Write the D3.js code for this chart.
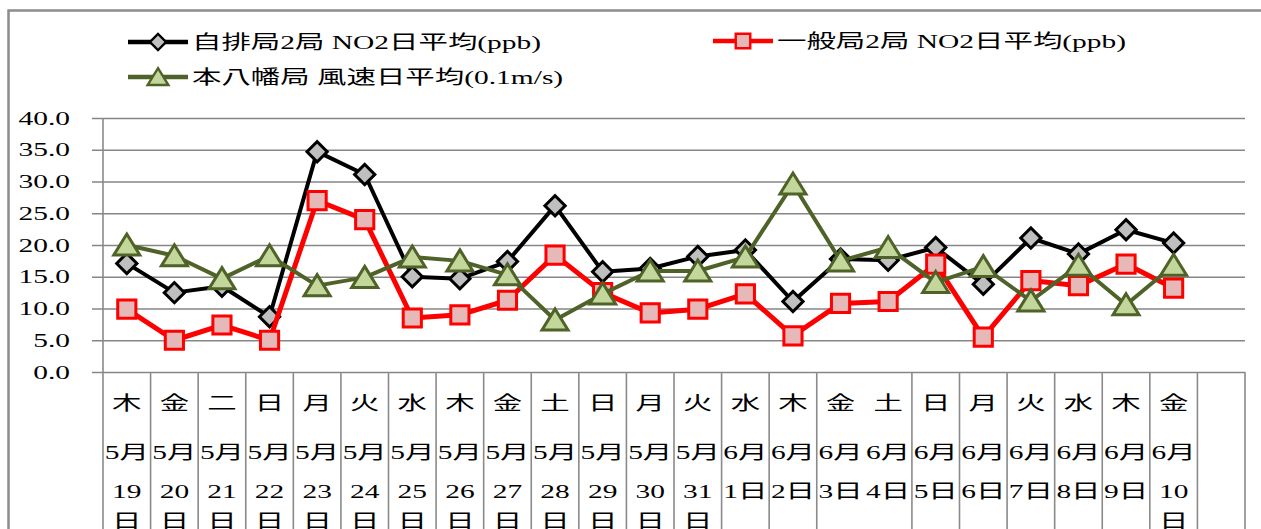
<!DOCTYPE html>
<html>
<head>
<meta charset="utf-8">
<script src="https://cdn.jsdelivr.net/npm/d3@7"></script>
<style>
  body { margin: 0; background: #fff; }
  svg { display: block; }
  text { font-family: "Liberation Serif", "Noto Sans CJK JP", serif; font-size: 19px; fill: #000; }
</style>
</head>
<body>
<div class="chartcontainer"></div>
<script>
// day-of-week row and date row of the category table (as printed)
const days = ['木', '金', '二', '日', '月', '火', '水', '木', '金', '土', '日', '月',
  '火', '水', '木', '金', '土', '日', '月', '火', '水', '木', '金'];
const dates = ['5月19日', '5月20日', '5月21日', '5月22日', '5月23日', '5月24日', '5月25日',
  '5月26日', '5月27日', '5月28日', '5月29日', '5月30日', '5月31日', '6月1日', '6月2日',
  '6月3日', '6月4日', '6月5日', '6月6日', '6月7日', '6月8日', '6月9日', '6月10日'];

const roadsideNO2 = [17.1, 12.5, 13.5, 8.7, 34.7, 31.1, 15.0, 14.7, 17.4, 26.2, 15.8, 16.3,
  18.2, 19.2, 11.1, 17.8, 17.6, 19.6, 13.8, 21.1, 18.6, 22.4, 20.3];
const ambientNO2 = [9.9, 5.0, 7.4, 5.0, 27.0, 24.0, 8.5, 9.0, 11.3, 18.4, 12.5, 9.3,
  9.9, 12.3, 5.7, 10.8, 11.1, 17.0, 5.5, 14.4, 13.6, 17.0, 13.2];
const windSpeed = [20.0, 18.3, 14.7, 18.3, 13.6, 14.9, 18.1, 17.5, 15.3, 8.2, 12.3, 15.9,
  15.9, 18.1, 29.6, 17.5, 19.6, 14.1, 16.6, 11.2, 16.8, 10.6, 16.8];

const seriesNames = ['自排局2局 NO2日平均(ppb)', '一般局2局 NO2日平均(ppb)', '本八幡局 風速日平均(0.1m/s)'];
const yTicks = [0, 5, 10, 15, 20, 25, 30, 35, 40];

const W = 1261;
const H = 529;
const stretch = 1.55; // text in the original is drawn horizontally stretched

const svg = d3.select('.chartcontainer')
  .append('svg')
  .attr('width', W)
  .attr('height', H);

// outer chart frame (cropped on right/bottom)
svg.append('rect')
  .attr('x', 8.5)
  .attr('y', 10.5)
  .attr('width', W + 40)
  .attr('height', H + 40)
  .attr('fill', 'none')
  .attr('stroke', '#8c8c8c')
  .attr('stroke-width', 2.5);

const plotLeft = 103;
const plotRight = 1245;
const plotTop = 118;
const plotBottom = 372;

// one extra empty slot at the end, as in the original
const x = d3.scaleBand()
  .domain(d3.range(dates.length + 1))
  .range([plotLeft, plotRight]);
const cx = i => x(i) + x.bandwidth() / 2;

const y = d3.scaleLinear()
  .domain([0, 40])
  .range([plotBottom, plotTop]);

// horizontal gridlines
const grid = svg.append('g')
  .attr('transform', 'translate(92,0)')
  .call(d3.axisLeft(y).tickValues(yTicks).tickSize(-(plotRight - 92)).tickFormat(''));
grid.select('.domain').remove();
grid.selectAll('.tick line').attr('stroke', '#868686').attr('stroke-width', 1.6);

// y tick labels
svg.append('g')
  .selectAll('text')
  .data(yTicks)
  .enter()
  .append('text')
  .attr('transform', d => `translate(70,${y(d) + 6.5}) scale(${stretch},1)`)
  .attr('text-anchor', 'end')
  .text(d3.format('.1f'));

// category table: vertical dividers (no divider between 6/3 and 6/4 in the original)
const mergedBoundary = 16;
const boundaries = d3.range(dates.length + 2).filter(k => k !== mergedBoundary);
svg.append('g')
  .selectAll('line')
  .data(boundaries)
  .enter()
  .append('line')
  .attr('x1', k => (k <= dates.length ? x(k) : plotRight))
  .attr('x2', k => (k <= dates.length ? x(k) : plotRight))
  .attr('y1', k => (k === 0 ? plotTop : plotBottom))
  .attr('y2', H)
  .attr('stroke', '#8a8a8a')
  .attr('stroke-width', 1.6);

// category labels
function dateLines(s) {
  const m = s.indexOf('月');
  const month = s.slice(0, m + 1);
  const day = s.slice(m + 1, -1);
  return day.length > 1 ? [month, day, '日'] : [month, day + '日'];
}
const rowBase = [410, 459, 498, 528];
const cats = svg.append('g')
  .selectAll('g')
  .data(dates)
  .enter()
  .append('g');
cats.append('text')
  .attr('transform', (d, i) => `translate(${cx(i)},${rowBase[0]}) scale(${stretch},1)`)
  .attr('text-anchor', 'middle')
  .text((d, i) => days[i]);
cats.each(function(d, i) {
  d3.select(this)
    .selectAll('.dl')
    .data(dateLines(d))
    .enter()
    .append('text')
    .attr('class', 'dl')
    .attr('transform', (t, j) => `translate(${cx(i)},${rowBase[j + 1]}) scale(${stretch},1)`)
    .attr('text-anchor', 'middle')
    .text(t => t);
});

// markers
const diamond = d3.symbol(d3.symbolSquare, 205)();
const square = d3.symbol(d3.symbolSquare, 330)();
const triangle = 'M0,-11L13,10L-13,10Z';

const series = [
  {name: seriesNames[0], values: roadsideNO2, color: '#000000', width: 4,
    path: diamond, rotate: 45, fill: '#bfbfbf', mstroke: '#000000'},
  {name: seriesNames[1], values: ambientNO2, color: '#ff0000', width: 5,
    path: square, rotate: 0, fill: '#e6b9b8', mstroke: '#ff0000'},
  {name: seriesNames[2], values: windSpeed, color: '#4f6228', width: 4,
    path: triangle, rotate: 0, fill: '#c3d69b', mstroke: '#4f6228'},
];

const line = d3.line()
  .x((d, i) => cx(i))
  .y(d => y(d));

series.forEach(s => {
  const g = svg.append('g');
  g.append('path')
    .datum(s.values)
    .attr('d', line)
    .attr('fill', 'none')
    .attr('stroke', s.color)
    .attr('stroke-width', s.width)
    .attr('stroke-linejoin', 'round');
  g.selectAll('.marker')
    .data(s.values)
    .enter()
    .append('path')
    .attr('class', 'marker')
    .attr('d', s.path)
    .attr('transform', (d, i) => `translate(${cx(i)},${y(d)}) rotate(${s.rotate})`)
    .attr('fill', s.fill)
    .attr('stroke', s.mstroke)
    .attr('stroke-width', 3);
});

// legend
const legendPos = [[158, 42], [743, 41], [158, 77]];
const legend = svg.append('g')
  .selectAll('g')
  .data(series)
  .enter()
  .append('g')
  .attr('transform', (d, i) => `translate(${legendPos[i][0]},${legendPos[i][1]})`);
legend.append('line')
  .attr('x1', -30)
  .attr('x2', 30)
  .attr('stroke', d => d.color)
  .attr('stroke-width', 4.5);
legend.append('path')
  .attr('d', d => d.path)
  .attr('transform', d => `scale(0.8) rotate(${d.rotate})`)
  .attr('fill', d => d.fill)
  .attr('stroke', d => d.mstroke)
  .attr('stroke-width', 3);
legend.append('text')
  .attr('transform', `translate(34,7) scale(${stretch},1)`)
  .text(d => d.name);
</script>
</body>
</html>
